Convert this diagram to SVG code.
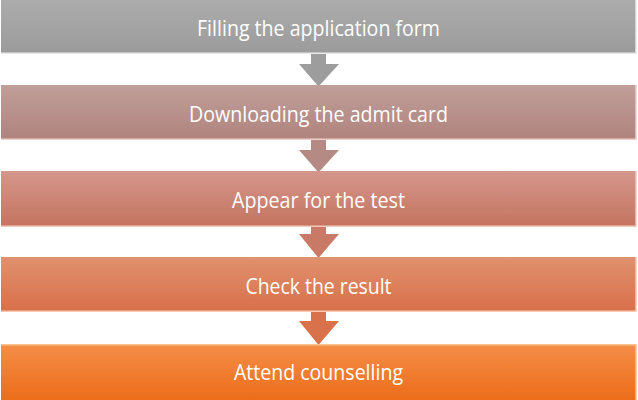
<svg xmlns="http://www.w3.org/2000/svg" width="638" height="400" viewBox="0 0 638 400">
<style>
.lbl{font-family:"Open Sans","Noto Sans","Liberation Sans",sans-serif;font-size:21px;fill:#ffffff;text-anchor:middle}
.edge{fill:none;stroke-width:1.5}
</style>
<defs>
<linearGradient id="g1" x1="0" y1="0" x2="0" y2="1"><stop offset="0" stop-color="#acacac"/><stop offset="1" stop-color="#9b9b9b"/></linearGradient>
<linearGradient id="g2" x1="0" y1="0" x2="0" y2="1"><stop offset="0" stop-color="#c09e99"/><stop offset="1" stop-color="#b0837d"/></linearGradient>
<linearGradient id="g3" x1="0" y1="0" x2="0" y2="1"><stop offset="0" stop-color="#d4978b"/><stop offset="1" stop-color="#c5735f"/></linearGradient>
<linearGradient id="g4" x1="0" y1="0" x2="0" y2="1"><stop offset="0" stop-color="#e0916e"/><stop offset="1" stop-color="#d8704a"/></linearGradient>
<linearGradient id="g5" x1="0" y1="0" x2="0" y2="1"><stop offset="0" stop-color="#f58e48"/><stop offset="1" stop-color="#ec6d1a"/></linearGradient>
</defs>
<g id="connectors">
<path d="M311,48 H326 V64 H339 L318.5,86.5 L299,64 H311 Z" fill="#9d9d9d"/>
<path d="M311,134 H326 V150 H339 L318.5,172.5 L299,150 H311 Z" fill="#b68a84"/>
<path d="M311,220 H326 V234 H339 L318.5,258 L299,234 H311 Z" fill="#c97a66"/>
<path d="M311,306 H326 V321 H339 L318.5,345 L299,321 H311 Z" fill="#d9714b"/>
</g>
<g id="n1">
<rect x="1" y="0" width="635" height="54" fill="url(#g1)"/>
<path class="edge" d="M1,53.3 H636 V0" stroke="#e9e9e9"/>
<text class="lbl" x="318.5" y="36" textLength="243" lengthAdjust="spacingAndGlyphs">Filling the application form</text>
</g>
<g id="n2">
<rect x="1" y="85" width="635" height="55" fill="url(#g2)"/>
<path class="edge" d="M1,139.3 H636 V85" stroke="#ecd0cb"/>
<text class="lbl" x="318.5" y="122" textLength="259" lengthAdjust="spacingAndGlyphs">Downloading the admit card</text>
</g>
<g id="n3">
<rect x="1" y="171" width="635" height="56" fill="url(#g3)"/>
<path class="edge" d="M1,226.3 H636 V171" stroke="#f3c8bd"/>
<text class="lbl" x="318.5" y="208" textLength="173" lengthAdjust="spacingAndGlyphs">Appear for the test</text>
</g>
<g id="n4">
<rect x="1" y="257" width="635" height="55" fill="url(#g4)"/>
<path class="edge" d="M1,311.3 H636 V257" stroke="#f8c9ae"/>
<text class="lbl" x="318.5" y="294" textLength="146" lengthAdjust="spacingAndGlyphs">Check the result</text>
</g>
<g id="n5">
<rect x="1" y="344" width="635" height="56" fill="url(#g5)"/>
<path class="edge" d="M1,344.7 H636 V400" stroke="#f8c590"/>
<text class="lbl" x="318.5" y="380" textLength="169" lengthAdjust="spacingAndGlyphs">Attend counselling</text>
</g>
</svg>
